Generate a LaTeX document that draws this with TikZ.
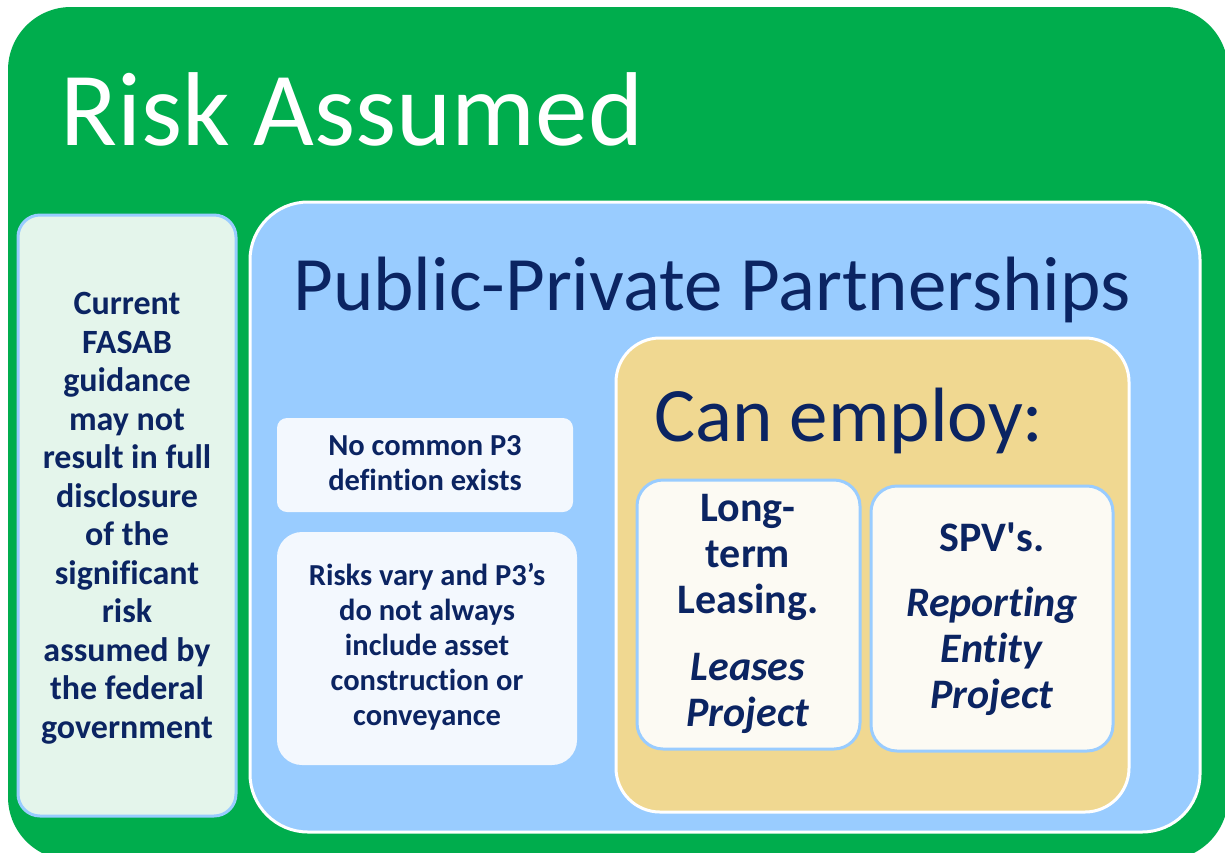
\documentclass[tikz,border=0pt]{standalone}
\usepackage{fontspec}
\setmainfont{Carlito}[Ligatures=NoCommon]
\definecolor{outergreen}{HTML}{00AD4D}
\definecolor{skyblue}{HTML}{99CCFF}
\definecolor{paletan}{HTML}{F0D891}
\definecolor{mintfill}{HTML}{E4F5EB}
\definecolor{icefill}{HTML}{F3F8FE}
\definecolor{creamfill}{HTML}{FCFAF3}
\definecolor{navytext}{HTML}{0B2462}
\tikzset{
  panel/.style={line width=3pt},
  title/.style={inner sep=0pt, anchor=base west},
  bodytext/.style={inner sep=0pt, align=center, text=navytext, font=\bfseries}
}
\begin{document}
\begin{tikzpicture}[x=1pt,y=-1pt]
\useasboundingbox (0,0) rectangle (1225,852);
\fill[white] (0,0) rectangle (1225,852);
\clip (0,0) rectangle (1225,852);

% outer frame
\fill[outergreen, rounded corners=63pt] (8,7) rectangle (1228,860);
\node[title, text=white, font=\fontsize{105}{110}\selectfont] (risk) at (60,145) {Risk Assumed};

% left column
\filldraw[panel, draw=skyblue, fill=mintfill, rounded corners=22pt] (18,215) rectangle (236,816);
\node[bodytext, font=\bfseries\fontsize{34}{38.5}\selectfont] (fasab) at (127,518)
  {Current\\FASAB\\guidance\\may not\\result in full\\disclosure\\of the\\significant\\risk\\assumed by\\the federal\\government};

% public-private partnerships panel
\filldraw[panel, draw=white, fill=skyblue, rounded corners=58pt] (250,202) rectangle (1200,832);
\node[title, text=navytext, font=\fontsize{77}{80}\selectfont] (ppp) at (293,310) {Public-Private Partnerships};

\fill[icefill, rounded corners=10pt] (277,418) rectangle (573,512);
\node[bodytext, font=\bfseries\fontsize{30.5}{35}\selectfont] (nodef) at (425,463)
  {No common P3\\defintion exists};

\fill[icefill, rounded corners=25pt] (277,532) rectangle (577,765);
\node[bodytext, font=\bfseries\fontsize{30.5}{35}\selectfont] (vary) at (427,647)
  {Risks vary and P3's\\do not always\\include asset\\construction or\\conveyance};

% can employ panel
\filldraw[panel, draw=white, fill=paletan, rounded corners=44pt] (616,338) rectangle (1129,812);
\node[title, text=navytext, font=\fontsize{77}{80}\selectfont] (employ) at (654,441) {Can employ:};

\filldraw[panel, draw=skyblue, fill=creamfill, rounded corners=26pt] (637,480) rectangle (860,749);
\node[bodytext, font=\bfseries\fontsize{42}{46}\selectfont] (lease) at (748,614)
  {Long-\\term\\Leasing.\\[21pt]\textit{Leases}\\\textit{Project}};

\filldraw[panel, draw=skyblue, fill=creamfill, rounded corners=26pt] (871,486) rectangle (1113,751);
\node[bodytext, font=\bfseries\fontsize{42}{46}\selectfont] (spv) at (992,619)
  {SPV\textquotesingle s.\\[19pt]\textit{Reporting}\\\textit{Entity}\\\textit{Project}};
\end{tikzpicture}
\end{document}
